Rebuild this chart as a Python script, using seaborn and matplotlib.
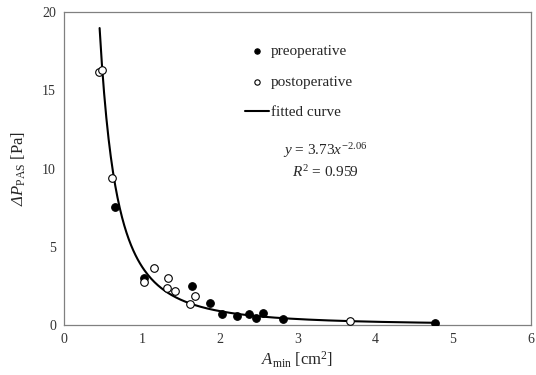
import numpy as np
import pandas as pd
import matplotlib
matplotlib.use("Agg")
import matplotlib.pyplot as plt
import seaborn as sns

# ------------------------------------------------------------
# Data
# ------------------------------------------------------------
pre_area = [0.655, 1.02, 1.645, 1.88, 2.03, 2.22, 2.38, 2.46, 2.55, 2.81, 4.77]
pre_dp = [7.56, 2.98, 2.49, 1.40, 0.72, 0.60, 0.68, 0.43, 0.75, 0.38, 0.15]

post_area = [0.45, 0.48, 0.617, 1.03, 1.15, 1.33, 1.315, 1.43, 1.615, 1.68, 3.68]
post_dp = [16.15, 16.3, 9.37, 2.73, 3.64, 3.04, 2.36, 2.17, 1.32, 1.85, 0.24]

# power-law fit shown on the chart: y = a * x^b
fit_a = 3.73
fit_b = -2.06
fit_range = (0.454, 4.77)

sns.set_theme(style="white")
plt.rcParams["font.family"] = ["Liberation Serif", "DejaVu Serif"]
plt.rcParams["mathtext.fontset"] = "custom"
plt.rcParams["mathtext.rm"] = "Liberation Serif"
plt.rcParams["mathtext.it"] = "Liberation Serif:italic"
# sf slot used for an italic capital Delta (mathtext keeps Greek capitals upright in 'it')
plt.rcParams["mathtext.sf"] = "Liberation Serif:italic"

fig, ax = plt.subplots(figsize=(5.36, 3.75), dpi=100)
fig.subplots_adjust(left=0.12, right=0.99, top=0.968, bottom=0.133)

fit_x = np.linspace(fit_range[0], fit_range[1], 300)
fit_df = pd.DataFrame({"x": fit_x, "y": fit_a * fit_x ** fit_b})
sns.lineplot(data=fit_df, x="x", y="y", ax=ax, color="black", lw=1.5,
             label="fitted curve", zorder=2)

sns.scatterplot(x=pre_area, y=pre_dp, ax=ax, color="black", s=30,
                edgecolor="black", linewidth=0.8, label="preoperative",
                zorder=3)
sns.scatterplot(x=post_area, y=post_dp, ax=ax, facecolor="white", s=30,
                edgecolor="black", linewidth=0.8, label="postoperative",
                zorder=3)

ax.set_xlim(0, 6)
ax.set_ylim(0, 20)
ax.set_xticks(range(0, 7))
ax.set_yticks(range(0, 21, 5))
ax.tick_params(direction="in", length=4, color="#808080", labelsize=10,
               labelcolor="#333333", pad=6)
for sp in ax.spines.values():
    sp.set_color("#808080")
    sp.set_linewidth(0.9)

ax.set_xlabel(r"$A_{\mathrm{min}}$ [cm$^2$]", fontsize=12, labelpad=2)
ax.set_ylabel(r"$\mathsf{ΔP}_{\mathrm{PAS}}$ [Pa]", fontsize=12,
              labelpad=10)

# legend: preoperative, postoperative, fitted curve
handles, labels = ax.get_legend_handles_labels()
order = [labels.index(l) for l in ["preoperative", "postoperative", "fitted curve"]]
leg = ax.legend([handles[i] for i in order], [labels[i] for i in order],
                loc="upper left", bbox_to_anchor=(0.358, 0.94), frameon=False,
                fontsize=11, handlelength=1.6, handletextpad=0.1,
                labelspacing=1.1, markerscale=0.7)

ax.text(0.56, 0.556, r"$y$ = 3.73$x^{-2.06}$", transform=ax.transAxes,
        fontsize=11, ha="center", va="center")
ax.text(0.56, 0.49, r"$R^2$ = 0.959", transform=ax.transAxes,
        fontsize=11, ha="center", va="center")

plt.savefig("out.png", dpi=100)
plt.close()
